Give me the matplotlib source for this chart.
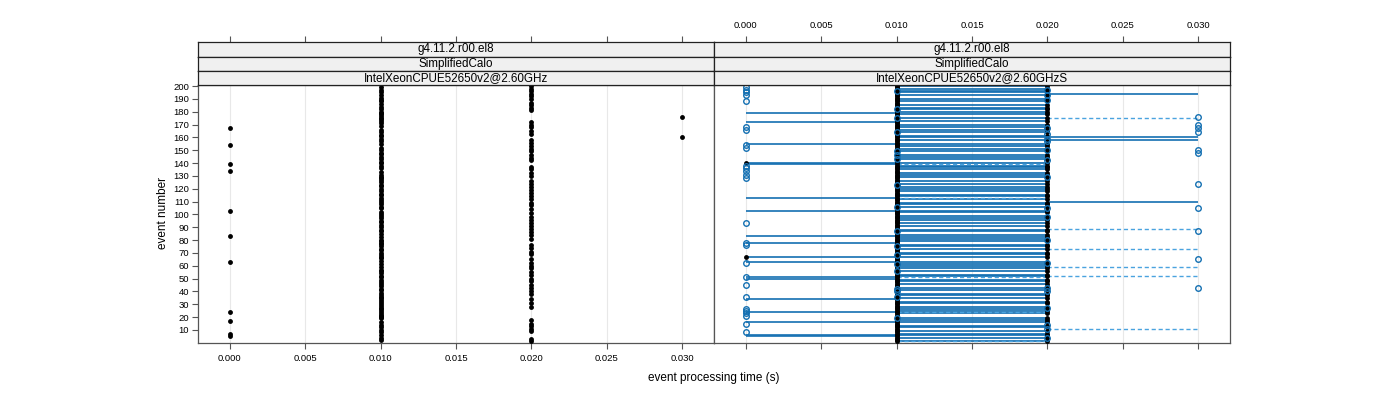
import matplotlib
matplotlib.use("Agg")
import matplotlib.pyplot as plt

plt.rcParams['font.family'] = ['Liberation Sans', 'DejaVu Sans']

# ---------------- data ----------------
# left panel: event processing time per event (units of 10 ms), events 1..200
left_time_10ms = [
    2, 1, 2, 1, 0, 1, 0, 1, 2, 1,
    2, 1, 2, 1, 2, 1, 0, 2, 1, 1,
    1, 1, 1, 0, 1, 1, 1, 2, 1, 1,
    2, 1, 1, 2, 1, 1, 1, 2, 1, 2,
    1, 1, 2, 1, 2, 1, 1, 2, 1, 2,
    1, 1, 2, 1, 2, 1, 1, 2, 1, 2,
    1, 2, 0, 1, 2, 1, 1, 1, 2, 1,
    2, 1, 1, 2, 1, 2, 1, 1, 1, 1,
    2, 1, 0, 2, 1, 2, 1, 1, 2, 1,
    2, 1, 2, 1, 1, 2, 1, 2, 1, 1,
    2, 1, 0, 2, 1, 1, 2, 1, 2, 1,
    1, 2, 1, 2, 1, 1, 2, 1, 2, 1,
    2, 1, 1, 2, 1, 2, 1, 1, 1, 2,
    1, 2, 1, 0, 2, 1, 2, 1, 0, 1,
    1, 2, 1, 2, 1, 2, 1, 1, 2, 1,
    2, 1, 2, 0, 1, 2, 1, 2, 1, 3,
    1, 1, 2, 1, 2, 1, 0, 2, 1, 2,
    1, 2, 1, 1, 1, 3, 1, 1, 1, 1,
    2, 1, 2, 1, 2, 1, 2, 1, 1, 2,
    1, 2, 1, 2, 1, 2, 1, 2, 1, 2,
]

# right panel: first black point per event (units of 10 ms)
right_black_a_10ms = [
    1, 1, 1, 1, 1, 1, 1, 1, 1, 1,
    1, 1, 1, 1, 1, 1, 1, 1, 1, 1,
    1, 1, 1, 1, 1, 1, 1, 1, 1, 1,
    1, 1, 1, 1, 1, 1, 1, 1, 1, 1,
    1, 1, 1, 1, 1, 1, 1, 1, 1, 1,
    1, 1, 1, 1, 1, 1, 1, 1, 1, 1,
    1, 1, 1, 1, 1, 1, 0, 1, 1, 1,
    1, 1, 1, 1, 1, 1, 1, 1, 1, 1,
    1, 1, 1, 1, 1, 1, 1, 1, 1, 1,
    1, 1, 1, 1, 1, 1, 1, 1, 1, 1,
    1, 1, 1, 1, 1, 1, 1, 1, 1, 1,
    1, 1, 1, 1, 1, 1, 1, 1, 1, 1,
    1, 1, 1, 1, 1, 1, 1, 1, 1, 1,
    1, 1, 1, 1, 1, 1, 1, 1, 1, 0,
    1, 1, 1, 1, 1, 1, 1, 1, 1, 1,
    1, 1, 1, 1, 1, 1, 1, 1, 1, 1,
    1, 1, 1, 1, 1, 1, 1, 1, 1, 1,
    1, 1, 1, 1, 1, 1, 1, 1, 1, 1,
    1, 1, 1, 1, 1, 1, 1, 1, 1, 1,
    1, 1, 1, 1, 1, 1, 1, 1, 1, 1,
]

# events whose ranges span 0.010 -> 0.020 (solid); these also have a black point at 0.020
solid_010_020 = [
    1, 4, 6, 7, 9, 12, 13, 16, 18, 19, 23, 25, 26, 28, 31, 32, 35, 37, 38, 41,
    43, 46, 48, 49, 52, 53, 56, 58, 60, 61, 63, 67, 69, 70, 73, 75, 76, 79, 81,
    82, 84, 87, 88, 91, 93, 96, 97, 99, 102, 103, 106, 108, 109, 112, 114, 115,
    118, 120, 121, 124, 126, 129, 131, 132, 135, 137, 138, 140, 143, 145, 146,
    149, 151, 153, 155, 158, 160, 161, 164, 166, 168, 170, 173, 175, 178, 180,
    182, 183, 185, 188, 190, 193, 195, 196, 198, 200,
]
solid_000_010 = [179, 172, 155, 140, 139, 113, 103, 83, 78, 67, 63, 51, 50, 34, 24, 16, 6, 5]
solid_020_030 = [194, 160, 158, 110]
dashed_010_020 = [139, 113, 51, 24, 1]
dashed_020_030 = [175, 89, 73, 59, 52, 11]

right_blue_000 = [199, 197, 195, 193, 188, 168, 166, 154, 152, 138, 136, 134, 131, 128,
                  93, 78, 76, 62, 51, 45, 36, 26, 25, 23, 21, 15, 8]
right_blue_010 = [196, 182, 175, 164, 149, 146, 143, 123, 106, 87, 75, 68, 61, 56, 42, 40, 36, 19]
right_blue_020 = [197, 193, 189, 167, 163, 159, 157, 150, 142, 129, 105, 98, 80, 62, 43, 40, 27, 14, 11, 4]
right_blue_030 = [176, 170, 167, 164, 150, 148, 124, 105, 87, 65, 43]

strip_version = "g4.11.2.r00.el8"
strip_app = "SimplifiedCalo"
left_cpu = "IntelXeonCPUE52650v2@2.60GHz"
right_cpu = "IntelXeonCPUE52650v2@2.60GHzS"

x_ticks = [0.000, 0.005, 0.010, 0.015, 0.020, 0.025, 0.030]
x_tick_labels = ["0.000", "0.005", "0.010", "0.015", "0.020", "0.025", "0.030"]
y_ticks = [10, 20, 30, 40, 50, 60, 70, 80, 90, 100, 110, 120, 130, 140, 150,
           160, 170, 180, 190, 200]
x_label = "event processing time (s)"
y_label = "event number"

# ---------------- layout ----------------
W, H = 1400, 400
fig = plt.figure(figsize=(14, 4), dpi=100)


def rect(x0, y0, x1, y1):
    return [x0 / W, 1 - y1 / H, (x1 - x0) / W, (y1 - y0) / H]


XLIM = (-0.0021, 0.0321)
YLIM = (0.2, 200.8)
AXC = '#555555'
BLUE = '#1470b2'
BLUE_D = '#4aa3df'
TICK_FS = 6.8
STRIP_FS = 8.4


def style_panel(ax):
    ax.set_xlim(*XLIM)
    ax.set_ylim(*YLIM)
    for s in ax.spines.values():
        s.set_color(AXC)
        s.set_linewidth(0.9)
    for xv in x_ticks:
        ax.axvline(xv, color='#e8e8e8', lw=0.8, zorder=0)
    ax.set_xticks(x_ticks)
    ax.set_xticklabels(x_tick_labels)
    ax.tick_params(axis='both', direction='out', length=4, width=0.8, color=AXC,
                   labelsize=TICK_FS, pad=2.5)
    ax.tick_params(axis='x', pad=4.5)


def strips(x0, x1, labels, show_top_labels):
    ys = [42, 56.5, 71, 85]
    for i, lab in enumerate(labels):
        sa = fig.add_axes(rect(x0, ys[i], x1, ys[i + 1]))
        sa.set_facecolor('#f0f0f0')
        sa.set_xlim(*XLIM)
        sa.set_ylim(0, 1)
        sa.set_yticks([])
        for s in sa.spines.values():
            s.set_color('#222222')
            s.set_linewidth(0.9)
        sa.text(0.5, 0.5, lab, transform=sa.transAxes, ha='center', va='center',
                fontsize=STRIP_FS, color='black')
        if i == 0:
            sa.set_xticks(x_ticks)
            sa.set_xticklabels(x_tick_labels)
            sa.tick_params(axis='x', top=True, bottom=False, labeltop=show_top_labels,
                           labelbottom=False, direction='out', length=4, width=0.8,
                           color=AXC, labelsize=TICK_FS, pad=4.5)
        else:
            sa.set_xticks([])


# left panel
axL = fig.add_axes(rect(198, 85, 714, 342.5))
style_panel(axL)
axL.set_yticks(y_ticks)
ev = list(range(1, len(left_time_10ms) + 1))
axL.plot([v * 0.01 for v in left_time_10ms], ev, 'o', color='black', ms=3.5, mew=0,
         linestyle='none', zorder=3)
strips(198, 714, [strip_version, strip_app, left_cpu], False)

# right panel
axR = fig.add_axes(rect(714, 85, 1230, 342.5))
style_panel(axR)
axR.set_yticks([])
axR.tick_params(axis='x', labelbottom=False)

axR.hlines(solid_010_020, 0.010, 0.020, colors=BLUE, lw=1.25, zorder=2)
axR.hlines(solid_000_010, 0.000, 0.010, colors=BLUE, lw=1.2, zorder=2)
axR.hlines(solid_020_030, 0.020, 0.030, colors=BLUE, lw=1.2, zorder=2)
axR.hlines(dashed_010_020, 0.010, 0.020, colors=BLUE_D, lw=1.0,
           linestyles=(0, (3, 2)), zorder=2.5)
axR.hlines(dashed_020_030, 0.020, 0.030, colors=BLUE_D, lw=1.0,
           linestyles=(0, (3, 2)), zorder=2.5)

evR = list(range(1, len(right_black_a_10ms) + 1))
axR.plot([v * 0.01 for v in right_black_a_10ms], evR, 'o', color='black', ms=3.5,
         mew=0, linestyle='none', zorder=3)
axR.plot([0.020] * len(solid_010_020), solid_010_020, 'o', color='black', ms=3.5,
         mew=0, linestyle='none', zorder=3)

for xv, evs in [(0.000, right_blue_000), (0.010, right_blue_010),
                (0.020, right_blue_020), (0.030, right_blue_030)]:
    axR.plot([xv] * len(evs), evs, 'o', mfc='none', mec=BLUE, ms=4.0, mew=1.0,
             linestyle='none', zorder=4)
strips(714, 1230, [strip_version, strip_app, right_cpu], True)

fig.text(714 / W, 1 - 378 / H, x_label, ha='center', va='center', fontsize=8.5)
fig.text(163 / W, 1 - 213 / H, y_label, ha='center', va='center', rotation=90,
         fontsize=8.5)

fig.savefig('out.png', dpi=100)
